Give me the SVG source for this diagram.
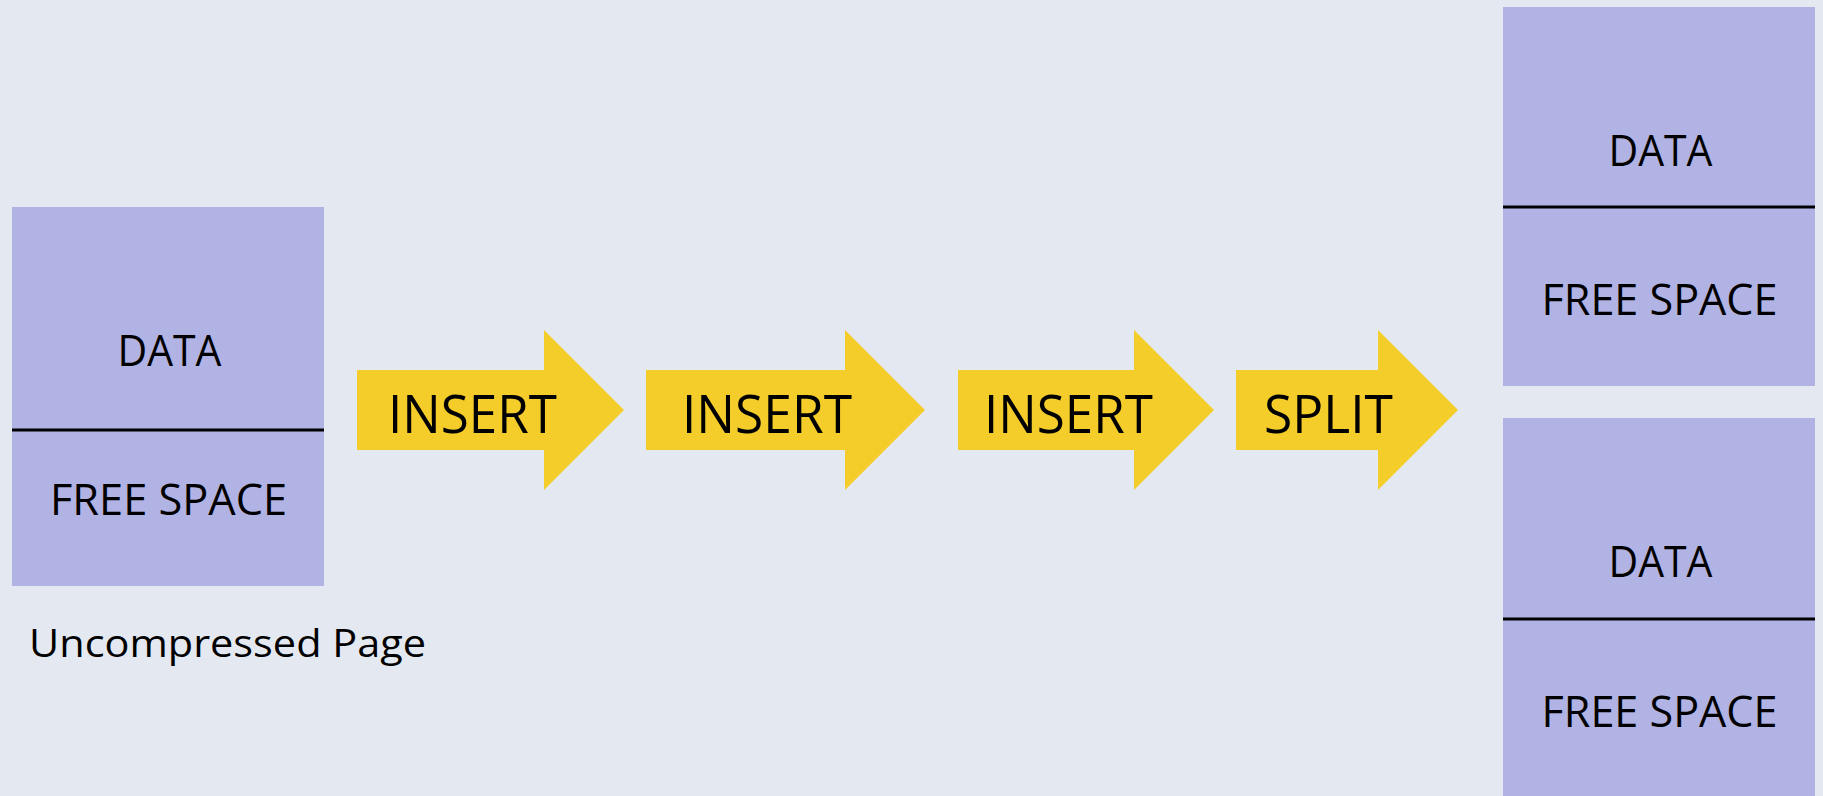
<svg xmlns="http://www.w3.org/2000/svg" width="1823" height="796" viewBox="0 0 1823 796">
  <style>
    .page { fill: #B1B3E4; }
    .divider { stroke: #000000; stroke-width: 3; }
    .arrow { fill: #F4CD2A; }
    .lbl { font-family: "Open Sans", "Noto Sans", sans-serif; fill: #000000; }
    .box-txt { font-size: 44px; text-anchor: middle; }
    .arr-txt { font-size: 53px; }
    .cap { font-size: 38px; }
  </style>
  <rect x="0" y="0" width="1823" height="796" fill="#E4E9F1"/>

  <g id="uncompressed-page">
    <rect class="page" x="12" y="207" width="312" height="379"/>
    <line class="divider" x1="12" y1="430" x2="324" y2="430"/>
    <text class="lbl box-txt" x="169.5" y="366" textLength="104" lengthAdjust="spacingAndGlyphs">DATA</text>
    <text class="lbl box-txt" x="168.5" y="515" textLength="237" lengthAdjust="spacingAndGlyphs">FREE SPACE</text>
    <text class="lbl cap" x="29" y="657" textLength="397" lengthAdjust="spacingAndGlyphs">Uncompressed Page</text>
  </g>

  <g id="connectors">
    <g id="arrow-insert-1">
      <polygon class="arrow" points="357,370 544,370 544,330 624,410 544,490 544,450 357,450"/>
      <text class="lbl arr-txt" x="388" y="433" textLength="169" lengthAdjust="spacingAndGlyphs">INSERT</text>
    </g>
    <g id="arrow-insert-2">
      <polygon class="arrow" points="646,370 845,370 845,330 925,410 845,490 845,450 646,450"/>
      <text class="lbl arr-txt" x="682" y="433" textLength="170" lengthAdjust="spacingAndGlyphs">INSERT</text>
    </g>
    <g id="arrow-insert-3">
      <polygon class="arrow" points="958,370 1134,370 1134,330 1214,410 1134,490 1134,450 958,450"/>
      <text class="lbl arr-txt" x="984" y="433" textLength="169" lengthAdjust="spacingAndGlyphs">INSERT</text>
    </g>
    <g id="arrow-split">
      <polygon class="arrow" points="1236,370 1378,370 1378,330 1458,410 1378,490 1378,450 1236,450"/>
      <text class="lbl arr-txt" x="1264" y="433" textLength="129" lengthAdjust="spacingAndGlyphs">SPLIT</text>
    </g>
  </g>

  <g id="split-page-1">
    <rect class="page" x="1503" y="7" width="312" height="379"/>
    <line class="divider" x1="1503" y1="207" x2="1815" y2="207"/>
    <text class="lbl box-txt" x="1660.5" y="166" textLength="104" lengthAdjust="spacingAndGlyphs">DATA</text>
    <text class="lbl box-txt" x="1659.5" y="315" textLength="236" lengthAdjust="spacingAndGlyphs">FREE SPACE</text>
  </g>

  <g id="split-page-2">
    <rect class="page" x="1503" y="418" width="312" height="390"/>
    <line class="divider" x1="1503" y1="619" x2="1815" y2="619"/>
    <text class="lbl box-txt" x="1660.5" y="577" textLength="104" lengthAdjust="spacingAndGlyphs">DATA</text>
    <text class="lbl box-txt" x="1659.5" y="727" textLength="236" lengthAdjust="spacingAndGlyphs">FREE SPACE</text>
  </g>
</svg>
